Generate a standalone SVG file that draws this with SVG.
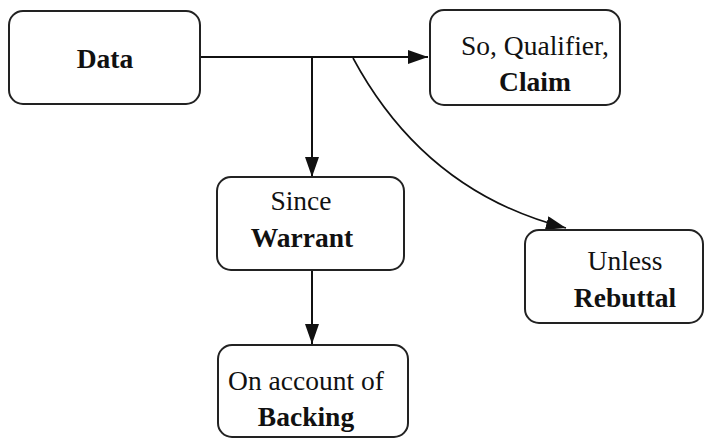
<svg xmlns="http://www.w3.org/2000/svg" width="707" height="439" viewBox="0 0 707 439">
<style>
.box{fill:#fff;stroke:#222;stroke-width:2}
.t{font-family:"Liberation Serif","Times New Roman",serif;font-size:27.5px;fill:#111;text-anchor:middle}
.b{font-weight:bold}
.c{fill:none;stroke:#111;stroke-width:2}
</style>
<defs>
<marker id="ah" viewBox="0 0 20 14" refX="20" refY="7" markerWidth="20" markerHeight="14" markerUnits="userSpaceOnUse" orient="auto">
<path d="M0,0 L20,7 L0,14 Z" fill="#111"/>
</marker>
</defs>
<rect width="707" height="439" fill="#fff"/>
<g id="connectors">
<path class="c" d="M200,57 H428" marker-end="url(#ah)"/>
<path class="c" d="M312,57 V177" marker-end="url(#ah)"/>
<path class="c" d="M353,58 Q425,192 566,228" marker-end="url(#ah)" style="stroke-width:1.6"/>
<path class="c" d="M312,270 V344" marker-end="url(#ah)"/>
</g>
<g id="data">
<rect class="box" x="9" y="11" width="191" height="93" rx="14"/>
<text class="t b" x="105" y="68">Data</text>
</g>
<g id="claim">
<rect class="box" x="430" y="10" width="190" height="95" rx="14"/>
<text class="t" x="535" y="55">So, Qualifier,</text>
<text class="t b" x="535" y="91">Claim</text>
</g>
<g id="warrant">
<rect class="box" x="217" y="177" width="187" height="93" rx="14"/>
<text class="t" x="301" y="210">Since</text>
<text class="t b" x="302" y="247">Warrant</text>
</g>
<g id="rebuttal">
<rect class="box" x="525" y="230" width="178" height="93" rx="14"/>
<text class="t" x="625" y="270">Unless</text>
<text class="t b" x="625" y="307">Rebuttal</text>
</g>
<g id="backing">
<rect class="box" x="218" y="345" width="190" height="92" rx="14"/>
<text class="t" x="306" y="390">On account of</text>
<text class="t b" x="306" y="426">Backing</text>
</g>
</svg>
